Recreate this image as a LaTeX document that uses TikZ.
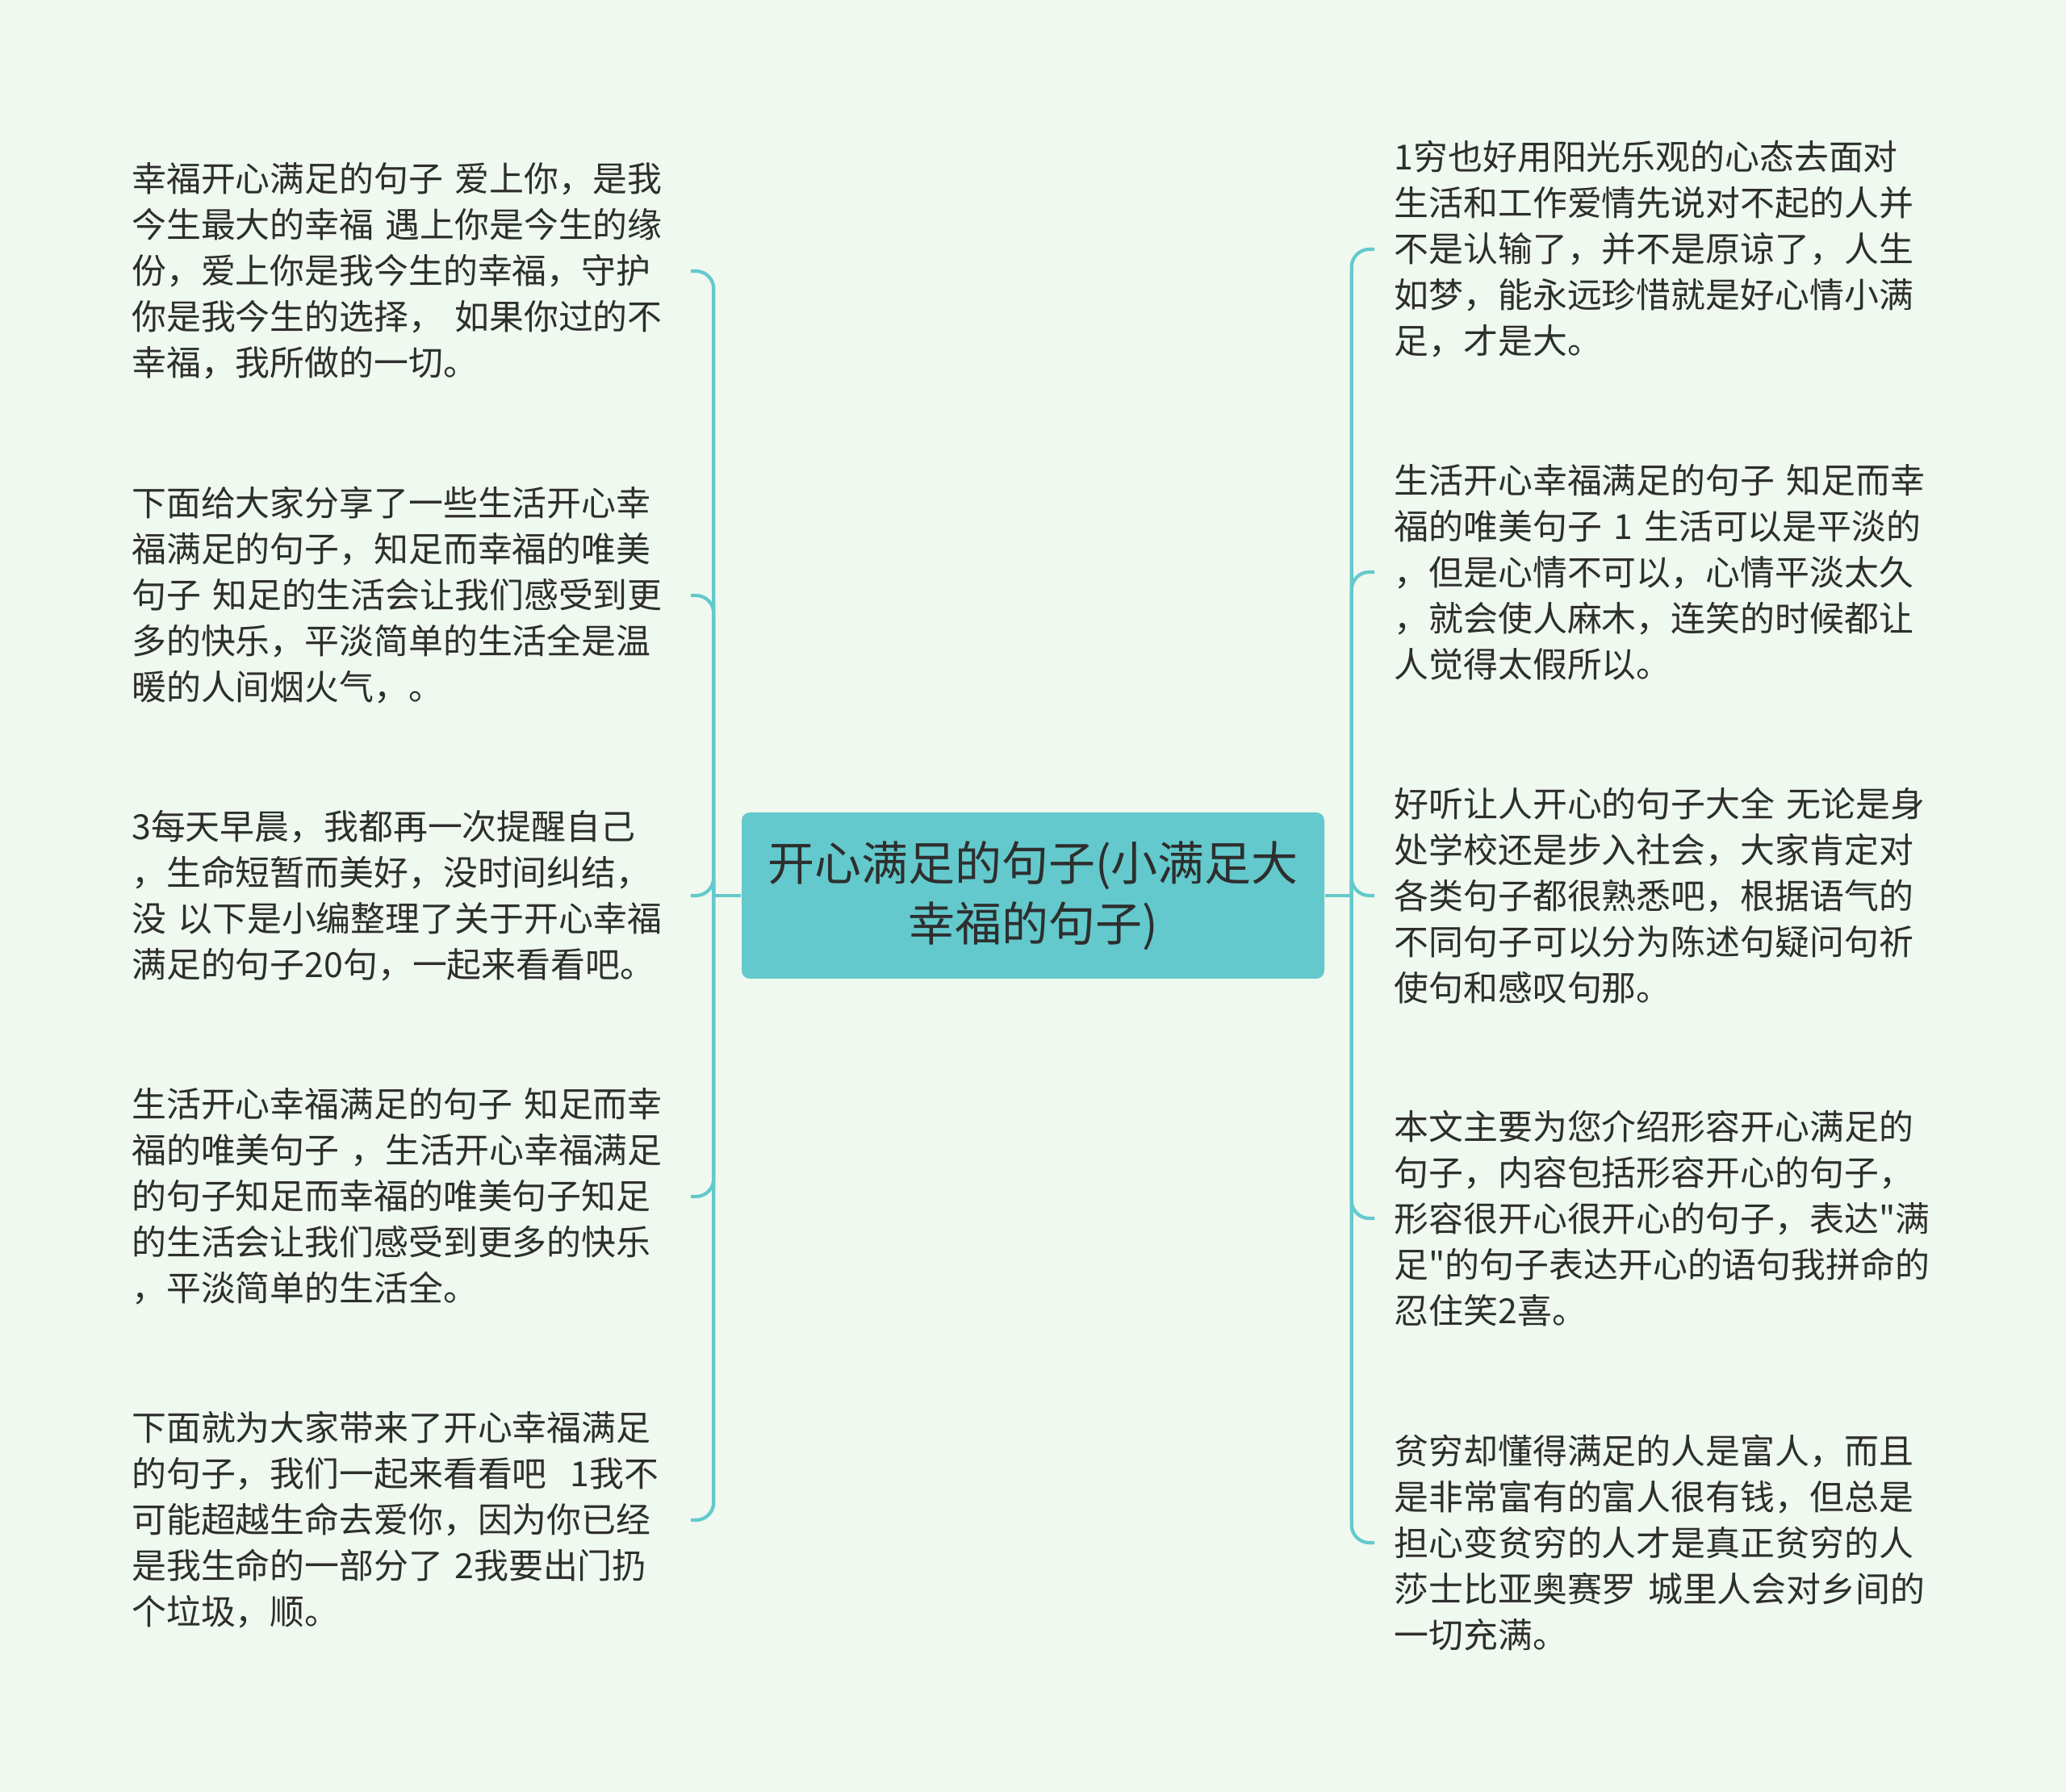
\documentclass[tikz,border=0pt]{standalone}
\usepackage{fontspec}
\setmainfont{Noto Sans CJK SC}[Ligatures=TeXOff]
\usetikzlibrary{positioning}

\definecolor{bgpale}{HTML}{F0F9EF}
\definecolor{teal2}{HTML}{63C9CC}
\definecolor{inkgray}{HTML}{2E2E2E}

\begin{document}
\begin{tikzpicture}[
    font=\fontsize{12.2pt}{16.2pt}\selectfont,
    root/.style={rectangle, fill=teal2, rounded corners=1mm, minimum width=7.22cm, minimum height=2.06cm, align=center, text=inkgray, font=\fontsize{16.5pt}{21.2pt}\selectfont},
    leafL/.style={anchor=east, text width=6.9cm, inner xsep=0.02cm, align=left, text=inkgray},
    leafR/.style={anchor=west, text width=6.9cm, inner xsep=0.24cm, align=left, text=inkgray},
    link/.style={draw=teal2, line width=1.2pt, rounded corners=0.22cm}
]

\fill[bgpale] (0,0) rectangle (25.6,-22.21);
\useasboundingbox (0,0) rectangle (25.6,-22.21);

\node[root] (root) at (12.80,-11.10) {开心满足的句子(小满足大\\幸福的句子)};

% left side
\node[leafL] (l1) at (8.56,-3.36) {幸福开心满足的句子 爱上你，是我\\今生最大的幸福 遇上你是今生的缘\\份，爱上你是我今生的幸福，守护\\你是我今生的选择， 如果你过的不\\幸福，我所做的一切。};
\node[leafL] (l2) at (8.56,-7.38) {下面给大家分享了一些生活开心幸\\福满足的句子，知足而幸福的唯美\\句子 知足的生活会让我们感受到更\\多的快乐，平淡简单的生活全是温\\暖的人间烟火气，。};
\node[leafL] (l3) at (8.56,-11.10) {3每天早晨，我都再一次提醒自己\\，生命短暂而美好，没时间纠结，\\没 以下是小编整理了关于开心幸福\\满足的句子20句，一起来看看吧。};
\node[leafL] (l4) at (8.56,-14.83) {生活开心幸福满足的句子 知足而幸\\福的唯美句子 ，生活开心幸福满足\\的句子知足而幸福的唯美句子知足\\的生活会让我们感受到更多的快乐\\，平淡简单的生活全。};
\node[leafL] (l5) at (8.56,-18.84) {下面就为大家带来了开心幸福满足\\的句子，我们一起来看看吧\ \ 1我不\\可能超越生命去爱你，因为你已经\\是我生命的一部分了 2我要出门扔\\个垃圾，顺。};

% right side
\node[leafR] (r1) at (17.03,-3.09) {1穷也好用阳光乐观的心态去面对\\生活和工作爱情先说对不起的人并\\不是认输了，并不是原谅了，人生\\如梦，能永远珍惜就是好心情小满\\足，才是大。};
\node[leafR] (r2) at (17.03,-7.09) {生活开心幸福满足的句子 知足而幸\\福的唯美句子 1 生活可以是平淡的\\，但是心情不可以，心情平淡太久\\，就会使人麻木，连笑的时候都让\\人觉得太假所以。};
\node[leafR] (r3) at (17.03,-11.10) {好听让人开心的句子大全 无论是身\\处学校还是步入社会，大家肯定对\\各类句子都很熟悉吧，根据语气的\\不同句子可以分为陈述句疑问句祈\\使句和感叹句那。};
\node[leafR] (r4) at (17.03,-15.10) {本文主要为您介绍形容开心满足的\\句子，内容包括形容开心的句子，\\形容很开心很开心的句子，表达"满\\足"的句子表达开心的语句我拼命的\\忍住笑2喜。};
\node[leafR] (r5) at (17.03,-19.12) {贫穷却懂得满足的人是富人，而且\\是非常富有的富人很有钱，但总是\\担心变贫穷的人才是真正贫穷的人\\莎士比亚奥赛罗 城里人会对乡间的\\一切充满。};

\coordinate (lhub) at ([xshift=-0.34cm]root.west);
\coordinate (rhub) at ([xshift=0.33cm]root.east);

\draw[link] (root.west) -- (lhub);
\draw[link] (root.east) -- (rhub);
\foreach \n in {l1,l2,l3,l4,l5} \draw[link] (lhub) |- (\n.east);
\foreach \n in {r1,r2,r3,r4,r5} \draw[link] (rhub) |- (\n.west);

\end{tikzpicture}
\end{document}
